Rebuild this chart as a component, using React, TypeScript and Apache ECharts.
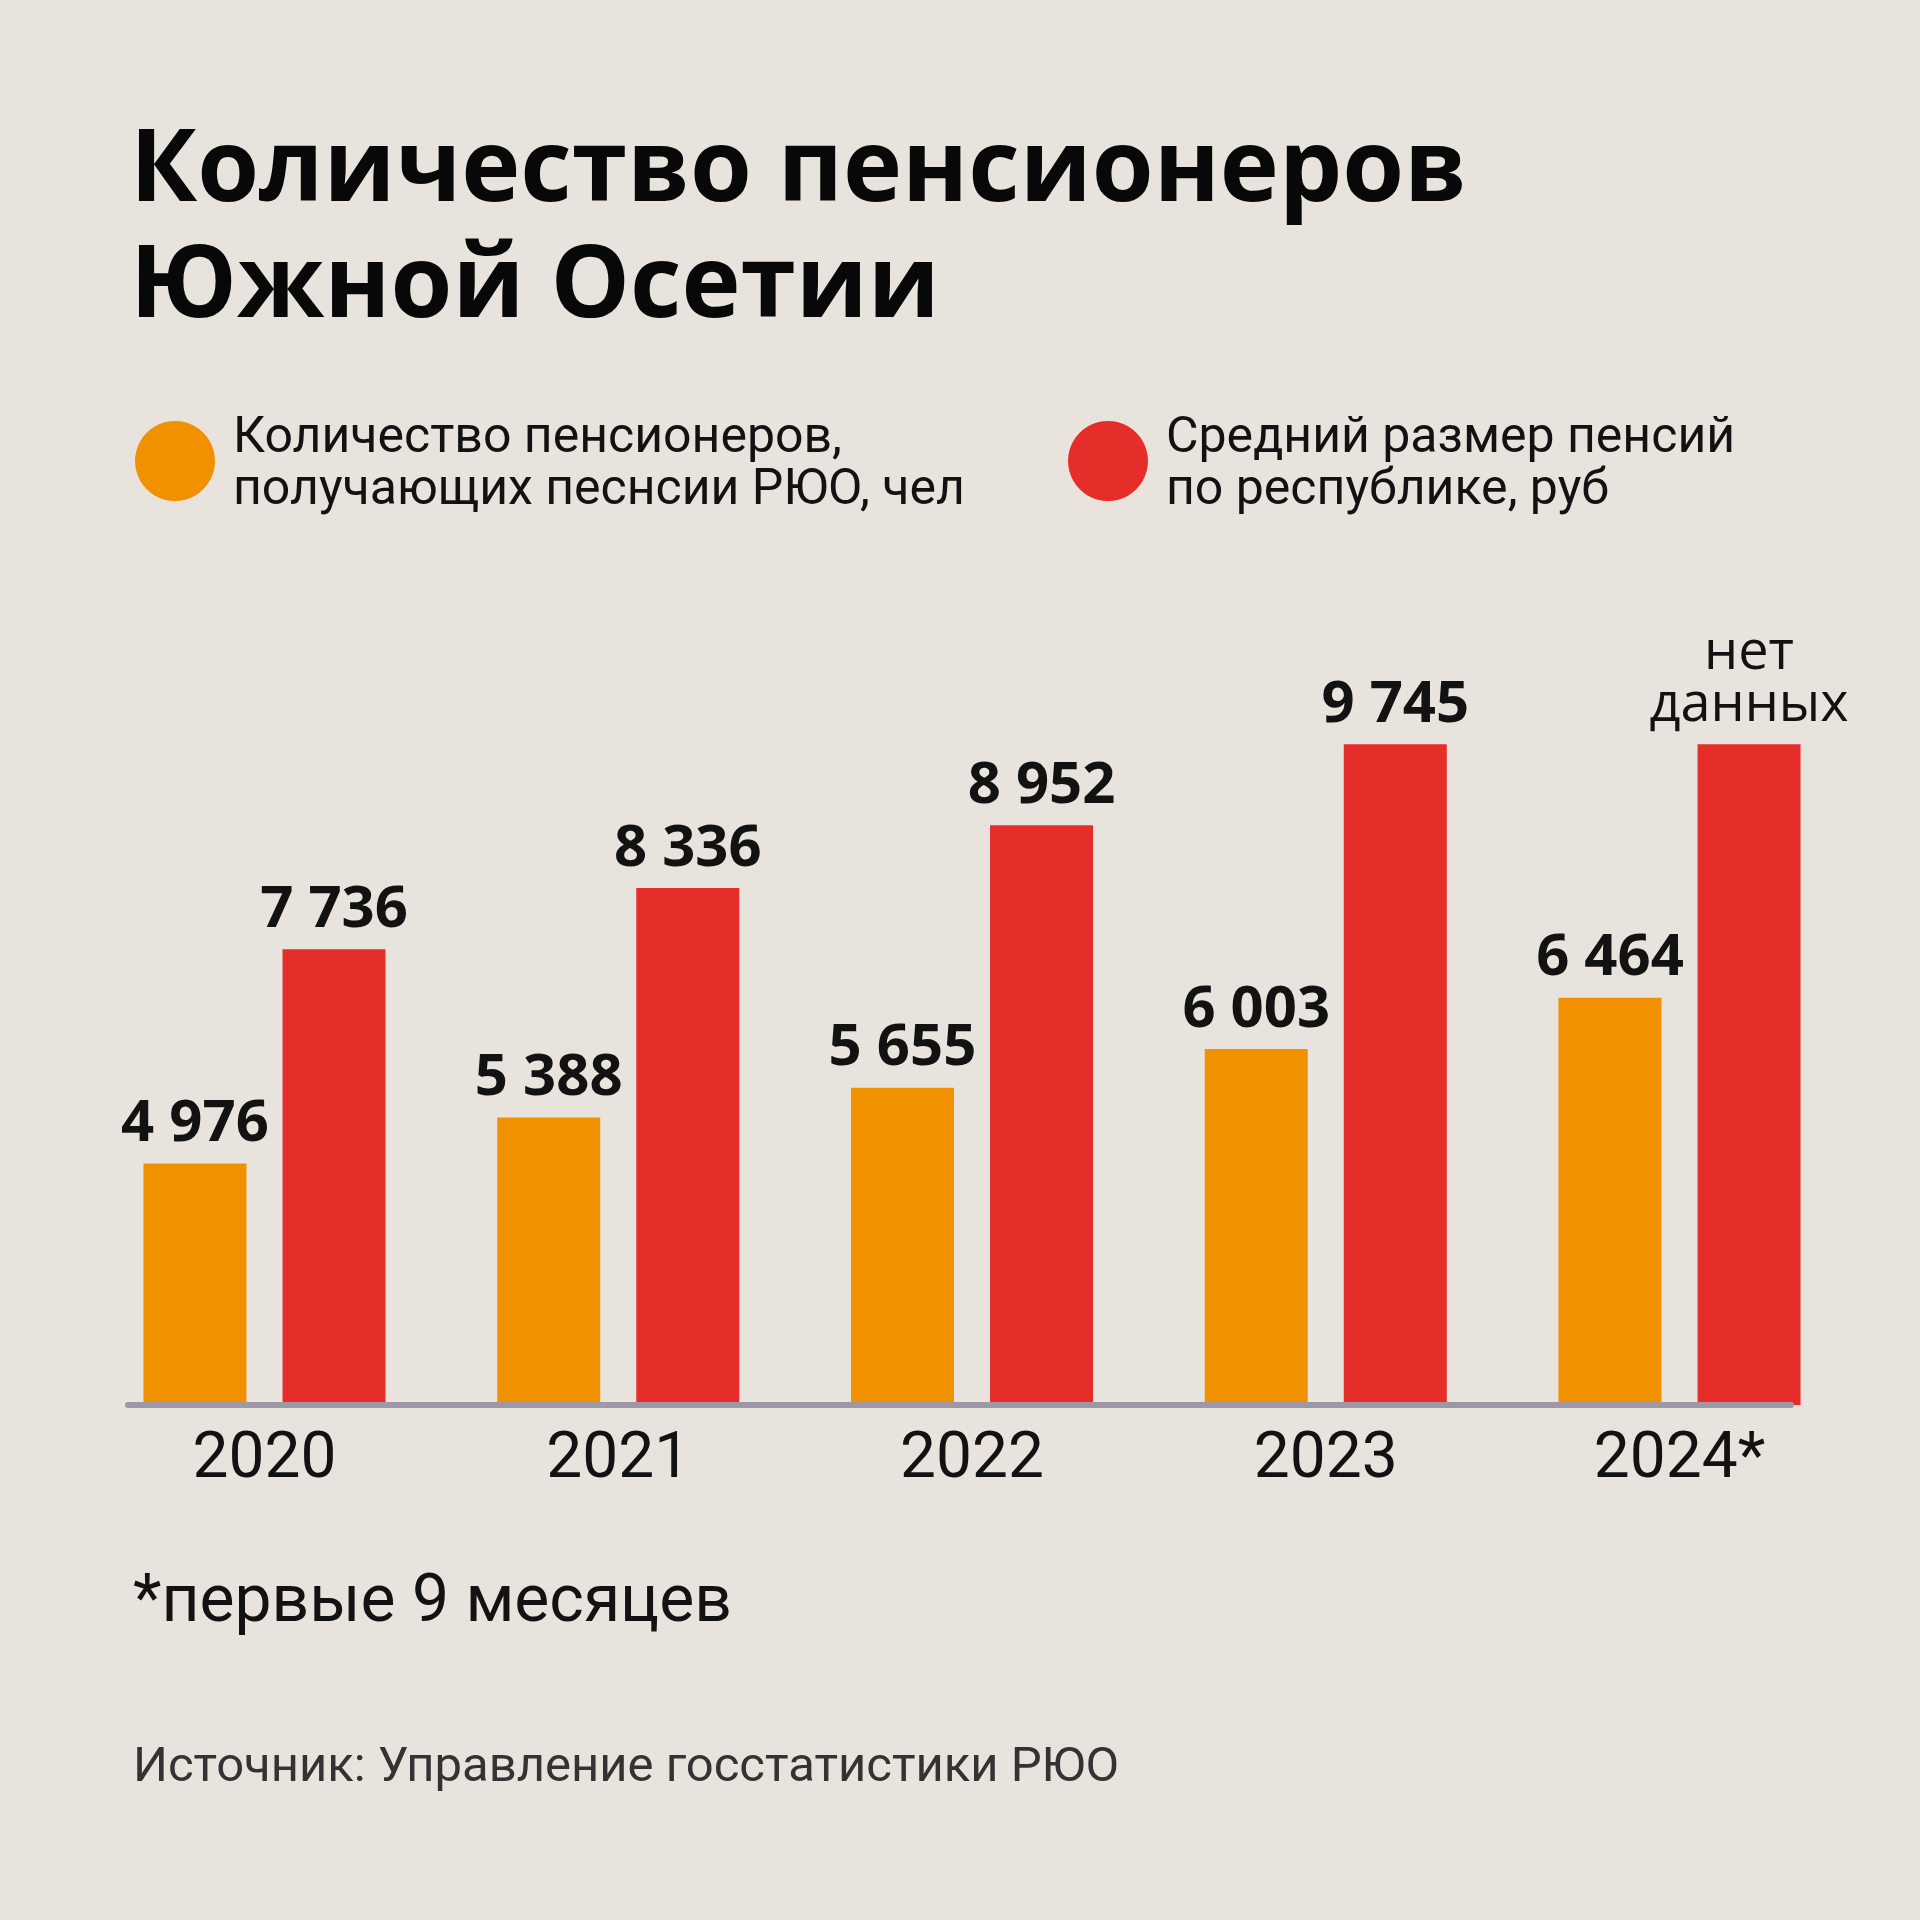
import React, { useEffect, useRef } from "react";
import * as echarts from "echarts";

const categories = ["2020", "2021", "2022", "2023", "2024*"];
const pensioners = [4976, 5388, 5655, 6003, 6464];
const avgPension: (number | null)[] = [7736, 8336, 8952, 9745, null];
// 2024 has no data; the reference draws that bar at the 2023 level
const noDataBarLevel = 9745;
const noDataText = "нет\nданных";

const seriesNames = [
  "Количество пенсионеров,\nполучающих песнсии РЮО, чел",
  "Средний размер пенсий\nпо республике, руб",
];
const titleText = "Количество пенсионеров\nЮжной Осетии";
const footnoteText = "*первые 9 месяцев";
const sourceText = "Источник: Управление госстатистики РЮО";

const BG = "#E8E4DD";
const ORANGE = "#F29100";
const RED = "#E52E2A";
const INK = "#121212";

const fmt = (v: number) => String(v).replace(/\B(?=(\d{3})+(?!\d))/g, " ");

export default function App() {
  const ref = useRef<HTMLDivElement>(null);
  useEffect(() => {
    document.body.style.margin = "0";
    const chart = echarts.init(ref.current!, null, { renderer: "svg" });
    const valueLabel = {
      show: true,
      position: "top",
      distance: 16,
      fontFamily: "Open Sans",
      fontWeight: 700,
      fontSize: 58,
      lineHeight: 58,
      color: INK,
      formatter: (p: any) => fmt(p.value),
    };
    const redData = avgPension.map((v) =>
      v == null
        ? {
            value: noDataBarLevel,
            label: {
              formatter: noDataText,
              fontWeight: 400,
              fontSize: 54,
              lineHeight: 52,
              distance: 18,
            },
          }
        : v
    );
    const legendCommon = {
      orient: "horizontal",
      top: 409,
      padding: 0,
      itemWidth: 80,
      itemHeight: 80,
      icon: "circle",
      selectedMode: false,
      textStyle: {
        fontFamily: "Roboto",
        fontSize: 50,
        lineHeight: 52,
        color: INK,
        padding: [0, 0, 0, 13],
      },
    };
    chart.setOption({
      animation: false,
      backgroundColor: BG,
      legend: [
        { ...legendCommon, left: 135, data: [seriesNames[0]] },
        { ...legendCommon, left: 1068, data: [seriesNames[1]] },
      ],
      grid: [
        { left: 87.6, right: 63.6, top: 700, bottom: 515 },
        { left: 128, right: 129, top: 1404, bottom: 515 },
      ],
      xAxis: [
        {
          type: "category",
          gridIndex: 0,
          data: categories,
          axisLine: { show: false },
          axisTick: { show: false },
          axisLabel: {
            margin: 18,
            fontFamily: "Roboto",
            fontSize: 64,
            lineHeight: 64,
            color: INK,
          },
        },
        {
          type: "value",
          gridIndex: 1,
          min: 0,
          max: 1,
          z: 5,
          axisLine: { show: true, lineStyle: { color: "#9D97A6", width: 6 } },
          axisTick: { show: false },
          axisLabel: { show: false },
          splitLine: { show: false },
        },
      ],
      yAxis: [
        { type: "value", gridIndex: 0, min: 2805, max: 9140, show: false, splitLine: { show: false } },
        { type: "value", gridIndex: 0, min: 3272, max: 10178, show: false, splitLine: { show: false } },
        { type: "value", gridIndex: 1, show: false, splitLine: { show: false } },
      ],
      series: [
        {
          name: seriesNames[0],
          type: "bar",
          xAxisIndex: 0,
          yAxisIndex: 0,
          data: pensioners,
          barWidth: 103,
          barGap: "35%",
          itemStyle: { color: ORANGE },
          label: valueLabel,
        },
        {
          name: seriesNames[1],
          type: "bar",
          xAxisIndex: 0,
          yAxisIndex: 1,
          data: redData,
          barWidth: 103,
          barGap: "35%",
          itemStyle: { color: RED },
          label: valueLabel,
        },
      ],
      graphic: [
        {
          type: "text",
          x: 130,
          y: 104,
          style: {
            text: titleText,
            fontFamily: "Open Sans",
            fontWeight: 700,
            fontSize: 100,
            lineHeight: 116,
            fill: "#080808",
            verticalAlign: "top",
          },
        },
        {
          type: "text",
          x: 133,
          y: 1598,
          style: {
            text: footnoteText,
            fontFamily: "Roboto",
            fontSize: 66,
            fill: INK,
            verticalAlign: "middle",
          },
        },
        {
          type: "text",
          x: 133,
          y: 1764,
          style: {
            text: sourceText,
            fontFamily: "Roboto",
            fontSize: 49,
            fill: "#333333",
            verticalAlign: "middle",
          },
        },
      ],
    });
    return () => chart.dispose();
  }, []);
  return (
    <div
      ref={ref}
      style={{ position: "absolute", left: 0, top: 0, width: 1920, height: 1920, background: BG }}
    />
  );
}
